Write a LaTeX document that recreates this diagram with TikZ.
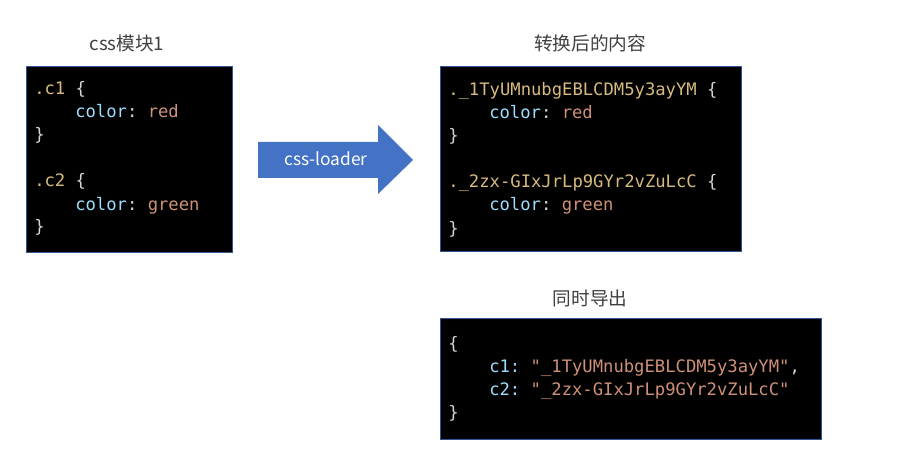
\documentclass[tikz,border=0pt]{standalone}
\usepackage{fontspec}
\setmainfont{Noto Sans CJK SC}
\setmonofont{DejaVu Sans Mono}
\definecolor{boxline}{HTML}{2F5597}
\definecolor{arrowblue}{HTML}{4472C4}
\definecolor{selcol}{HTML}{D7BA7D}
\definecolor{propcol}{HTML}{9CDCFE}
\definecolor{valcol}{HTML}{CE9178}
\definecolor{brcol}{HTML}{D4D4D4}
\definecolor{titlecol}{HTML}{404040}
\newcommand{\sel}[1]{\textcolor{selcol}{#1}}
\newcommand{\prop}[1]{\textcolor{propcol}{#1}}
\newcommand{\val}[1]{\textcolor{valcol}{#1}}
\tikzset{
	codebox/.style={draw=boxline, fill=black, line width=0.8pt, anchor=north west, inner sep=0},
	code/.style={anchor=base west, inner sep=0, text=brcol, font=\ttfamily\fontsize{12.9}{15}\selectfont},
	title/.style={text=titlecol, font=\fontsize{14}{16}\selectfont},
}
\begin{document}
\begin{tikzpicture}[x=0.75pt, y=-0.75pt]
	\useasboundingbox (0,0) rectangle (900,449);
	% css module
	\node[title] (t1) at (127,43) {css模块1};
	\node[codebox, minimum width=154.5pt, minimum height=139.5pt] (mod) at (26,66) {};
	\node[code] (m1) at (34,95) {\sel{.c1} \{};
	\node[code] (m2) at (75,118) {\prop{color}: \val{red}};
	\node[code] (m3) at (34,141) {\}};
	\node[code] (m4) at (34,187) {\sel{.c2} \{};
	\node[code] (m5) at (75,210) {\prop{color}: \val{green}};
	\node[code] (m6) at (34,233) {\}};
	% loader arrow
	\fill[arrowblue] (258,142) -- (378,142) -- (378,125) -- (413,160) -- (378,194) -- (378,178) -- (258,178) -- cycle;
	\node[text=white, font=\fontsize{13}{15}\selectfont] (ld) at (326,159) {css-loader};
	% converted
	\node[title] (t2) at (590,43) {转换后的内容};
	\node[codebox, minimum width=225.75pt, minimum height=138.75pt] (conv) at (440,66) {};
	\node[code] (c1) at (448,96) {\sel{.\_1TyUMnubgEBLCDM5y3ayYM} \{};
	\node[code] (c2) at (489,119) {\prop{color}: \val{red}};
	\node[code] (c3) at (448,142) {\}};
	\node[code] (c4) at (448,188) {\sel{.\_2zx-GIxJrLp9GYr2vZuLcC} \{};
	\node[code] (c5) at (489,211) {\prop{color}: \val{green}};
	\node[code] (c6) at (448,234) {\}};
	% exported
	\node[title] (t3) at (590,298) {同时导出};
	\node[codebox, minimum width=285.75pt, minimum height=90.75pt] (exp) at (440,318) {};
	\node[code] (e1) at (448,349) {\{};
	\node[code] (e2) at (489,372) {\prop{c1:} \val{"\_1TyUMnubgEBLCDM5y3ayYM"},};
	\node[code] (e3) at (489,395) {\prop{c2:} \val{"\_2zx-GIxJrLp9GYr2vZuLcC"}};
	\node[code] (e4) at (448,418) {\}};
\end{tikzpicture}
\end{document}
